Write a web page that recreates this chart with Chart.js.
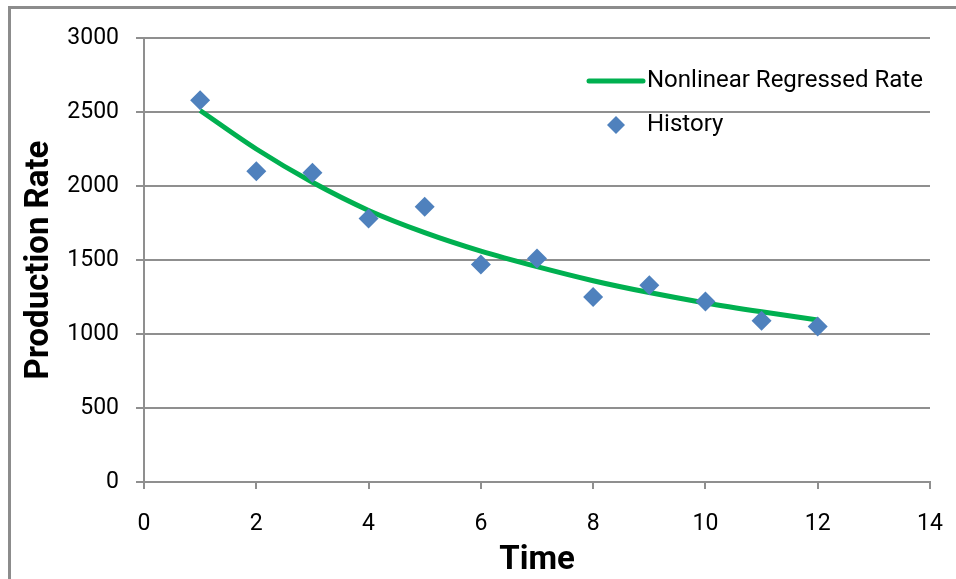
<!DOCTYPE html>
<html>
<head>
<meta charset="utf-8">
<script src="https://cdn.jsdelivr.net/npm/chart.js@4/dist/chart.umd.min.js"></script>
<style>
  html, body { margin: 0; padding: 0; background: #fff; }
  #wrap { position: relative; width: 956px; height: 579px; overflow: hidden; }
  #frame { position: absolute; left: 8px; top: 6px; width: 1200px; height: 1200px;
           border-left: 3px solid #8c8c8c; border-top: 3px solid #8c8c8c; box-sizing: border-box; }
  canvas { position: absolute; left: 0; top: 0; }
</style>
</head>
<body>
<div id="wrap">
  <div id="frame"></div>
  <canvas id="c" width="956" height="579"></canvas>
</div>
<script>
// Data
const timeValues = [1, 2, 3, 4, 5, 6, 7, 8, 9, 10, 11, 12];
const historyRates = [2580, 2100, 2090, 1780, 1860, 1470, 1510, 1250, 1330, 1220, 1090, 1050];
const regressedRates = [2510, 2250, 2025, 1835, 1685, 1560, 1455, 1360, 1280, 1210, 1150, 1095];
const seriesLabels = ['Nonlinear Regressed Rate', 'History'];
const xAxisTitle = 'Time';
const yAxisTitle = 'Production Rate';

const FONT = 'Roboto, "Liberation Sans", sans-serif';
const GRID = '#8f8f8f';

const toPts = (xs, ys) => xs.map((x, i) => ({ x: x, y: ys[i] }));

const legendPlugin = {
  id: 'customLegend',
  afterDatasetsDraw(chart) {
    const ctx = chart.ctx;
    const ds = chart.data.datasets;
    ctx.save();
    ctx.font = '24px ' + FONT;
    ctx.fillStyle = '#000';
    ctx.textBaseline = 'middle';
    ctx.textAlign = 'left';
    // line item
    ctx.strokeStyle = ds[0].borderColor;
    ctx.lineWidth = 5;
    ctx.lineCap = 'round';
    ctx.beginPath();
    ctx.moveTo(589, 81);
    ctx.lineTo(643, 81);
    ctx.stroke();
    ctx.fillText(ds[0].label, 647, 81);
    // marker item
    ctx.fillStyle = ds[1].backgroundColor;
    ctx.beginPath();
    ctx.moveTo(616, 116); ctx.lineTo(625, 125); ctx.lineTo(616, 134); ctx.lineTo(607, 125);
    ctx.closePath();
    ctx.fill();
    ctx.fillStyle = '#000';
    ctx.fillText(ds[1].label, 647, 125);
    ctx.restore();
  }
};

new Chart(document.getElementById('c'), {
  type: 'scatter',
  data: {
    datasets: [
      {
        label: seriesLabels[0],
        data: toPts(timeValues, regressedRates),
        showLine: true,
        borderColor: '#00B050',
        backgroundColor: '#00B050',
        borderWidth: 5,
        pointRadius: 0,
        pointHoverRadius: 0,
        cubicInterpolationMode: 'monotone',
        order: 1
      },
      {
        label: seriesLabels[1],
        data: toPts(timeValues, historyRates),
        showLine: false,
        pointStyle: 'rectRot',
        pointRadius: 10,
        backgroundColor: '#4F81BD',
        borderColor: '#4F81BD',
        borderWidth: 0,
        order: 0
      }
    ]
  },
  options: {
    responsive: false,
    animation: false,
    events: [],
    layout: { padding: { top: 38, right: 26, left: 0, bottom: 0 } },
    plugins: { legend: { display: false }, tooltip: { enabled: false } },
    scales: {
      x: {
        type: 'linear',
        min: 0, max: 14,
        ticks: { stepSize: 2, color: '#000', font: { family: FONT, size: 23 }, padding: 21, maxRotation: 0,
                 callback: (v) => String(v) },
        grid: { drawOnChartArea: false, drawTicks: true, tickLength: 7, color: GRID, lineWidth: 2 },
        border: { color: GRID, width: 2 },
        title: { display: true, text: xAxisTitle, color: '#000', font: { family: FONT, size: 33, weight: 'bold' }, padding: { top: 0, bottom: -2 } },
        afterFit(scale) { scale.height = 579 - 482; scale.paddingRight = 0; scale.paddingLeft = 0; }
      },
      y: {
        min: 0, max: 3000,
        ticks: { stepSize: 500, color: '#000', font: { family: FONT, size: 23 }, padding: 17,
                 callback: (v) => String(v) },
        grid: { drawOnChartArea: true, drawTicks: true, tickLength: 8, color: GRID, lineWidth: 2 },
        border: { color: GRID, width: 2 },
        title: { display: true, text: yAxisTitle, color: '#000', font: { family: FONT, size: 33, weight: 'bold' }, padding: { top: 20, bottom: 0 } },
        afterFit(scale) { scale.width = 144; scale.paddingTop = 0; scale.paddingBottom = 0; }
      }
    }
  },
  plugins: [legendPlugin]
});
</script>
</body>
</html>
